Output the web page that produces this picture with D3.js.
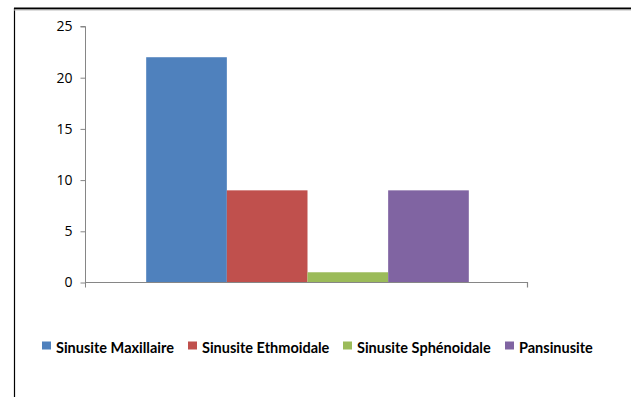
<!DOCTYPE html>
<html><head><meta charset="utf-8">
<script src="https://cdn.jsdelivr.net/npm/d3@7"></script>
<style>body{margin:0;background:#fff}svg{display:block}</style>
</head><body>
<script>
const categories = ["Type"];
const seriesNames = ["Sinusite Maxillaire","Sinusite Ethmoidale","Sinusite Sphénoidale","Pansinusite"];
const seriesValues = [22, 9, 1, 9];
const colors = ["#4F81BD","#C0504D","#9BBB59","#8064A2"];
const yTicks = [0,5,10,15,20,25];

(function(){
const W = 631, H = 397;
const svg = d3.select("body").append("svg").attr("width",W).attr("height",H);

// frame
svg.append("line").attr("x1",14.5).attr("x2",14.5).attr("y1",8).attr("y2",H).attr("stroke","#000").attr("stroke-width",1.2);
svg.append("line").attr("x1",14).attr("x2",W).attr("y1",8.5).attr("y2",8.5).attr("stroke","#000").attr("stroke-width",2);
svg.append("line").attr("x1",14).attr("x2",W).attr("y1",10).attr("y2",10).attr("stroke","#bbb").attr("stroke-width",1);

const pl = 85, pr = 527, pt = 26.5, pb = 282.5;
const y = d3.scaleLinear().domain([0,25]).range([pb, pt]);
const x0 = d3.scaleBand().domain(categories).range([pl+1.5,pr+1.5]).padding(0);
const x1 = d3.scaleBand().domain(seriesNames).range([0, x0.bandwidth()]).paddingInner(0).paddingOuter(0.74);

const g = svg.append("g");
categories.forEach(c => {
  g.selectAll("rect.bar").data(seriesNames.map((s,i)=>({s, v:seriesValues[i], c:colors[i]})))
   .enter().append("rect").attr("class","bar")
   .attr("x", d => x0(c) + x1(d.s))
   .attr("width", x1.bandwidth())
   .attr("y", d => y(d.v))
   .attr("height", d => y(0) - y(d.v))
   .attr("fill", d => d.c);
});

// y axis
const yAxis = d3.axisLeft(y).tickValues(yTicks).tickSize(5).tickPadding(8);
const ya = svg.append("g").attr("transform",`translate(${pl+0.5},0)`).call(yAxis);
ya.select(".domain").attr("stroke","#868686").attr("d",`M-5,${pt}H0V${pb+5}`);
ya.selectAll(".tick line").attr("stroke","#868686");
ya.selectAll(".tick text").attr("font-family","'Open Sans', Lato, sans-serif").attr("font-size",14).attr("fill","#000");

// x axis
const xa = svg.append("g").attr("transform",`translate(0,${pb})`);
xa.append("path").attr("d",`M${pl},0H${pr+0.5}V5`).attr("stroke","#868686").attr("fill","none").attr("stroke-width",1.2);

// legend
const lg = svg.append("g").attr("font-family","Lato, 'Open Sans', sans-serif").attr("font-weight","bold").attr("font-size",14.5);
const legX = [42, 188, 343, 505];
seriesNames.forEach((s,i)=>{
  const it = lg.append("g").attr("transform",`translate(${legX[i]},0)`);
  it.append("rect").attr("x",0).attr("y",341.5).attr("width",9).attr("height",8).attr("fill",colors[i]);
  it.append("text").attr("x",14).attr("y",353).text(s).attr("fill","#000");
});
})();
</script>
</body></html>
